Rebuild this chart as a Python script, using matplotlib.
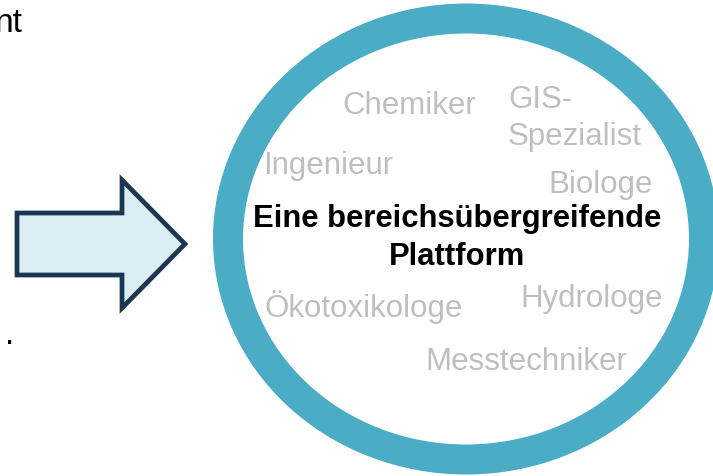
import matplotlib.pyplot as plt
from matplotlib.patches import Ellipse, Polygon

# role labels around the ring and where they sit (left x, baseline y in px)
roles = ["Chemiker", "GIS-", "Spezialist", "Ingenieur", "Biologe",
         "Ökotoxikologe", "Hydrologe", "Messtechniker"]
role_x = [342, 508, 508, 263, 548, 265, 520, 425]
role_y = [114, 108, 145, 174, 193, 317, 307, 370]

center_lines = ["Eine bereichsübergreifende", "Plattform"]
center_y = [227, 265]

# arrow outline (px)
arrow_x = [17, 122, 122, 185, 122, 122, 17]
arrow_y = [214, 214, 181, 245, 309, 276, 276]

W, H = 713, 477
fig = plt.figure(figsize=(W / 100, H / 100), dpi=100)
ax = fig.add_axes([0, 0, 1, 1])
ax.set_xlim(0, W)
ax.set_ylim(H, 0)
ax.axis("off")

plt.rcParams['font.family'] = ['Liberation Sans', 'DejaVu Sans']

ring = Ellipse((466, 240), 476, 441, fill=False, edgecolor="#4BACC6",
               linewidth=21.6)
ax.add_patch(ring)

arrow = Polygon(list(zip(arrow_x, arrow_y)), closed=True, facecolor="#DAEEF3",
                edgecolor="#1B3553", linewidth=3.4, joinstyle="miter")
ax.add_patch(arrow)

for lab, x, y in zip(roles, role_x, role_y):
    ax.text(x, y, lab, fontsize=22.5, color="#BFBFBF", ha="left", va="baseline")

for line, y in zip(center_lines, center_y):
    ax.text(457, y, line, fontsize=22.3, fontweight="bold", color="black",
            ha="center", va="baseline")

# cut-off text fragments at the left edge
ax.text(23, 32, "nt", fontsize=24, color="black", ha="right", va="baseline")
ax.text(5, 344, ".", fontsize=24, color="black", ha="left", va="baseline")

fig.savefig("out.png", dpi=100)
